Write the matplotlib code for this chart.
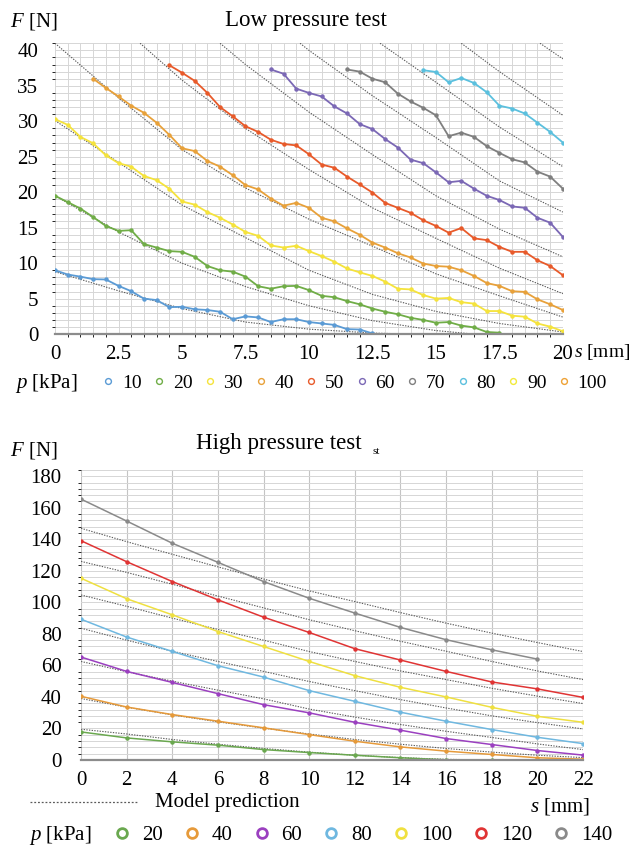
import numpy as np
import matplotlib.pyplot as plt
from matplotlib.lines import Line2D
from matplotlib.ticker import MultipleLocator

plt.rcParams['font.family'] = ['Liberation Serif', 'DejaVu Serif']
plt.rcParams['mathtext.fontset'] = 'custom'
plt.rcParams['mathtext.rm'] = 'Liberation Serif'
plt.rcParams['mathtext.it'] = 'Liberation Serif:italic'

# ---------------- low pressure test (s step 0.5 mm) ----------------
low_p = [10, 20, 30, 40, 50, 60, 70, 80, 90, 100]
low_colors = ['#5b9bd5', '#70ad47', '#f5e33c', '#e8a13a', '#e85a2a',
              '#7b68b5', '#7f7f7f', '#5bc0de', '#f2ea3a', '#eea236']
low_start = [0, 0, 0, 1.5, 4.5, 8.5, 11.5, 14.5]
low_10 = [9.0, 8.4, 8.1, 7.75, 7.7, 6.8, 6.05, 5.0, 4.8, 3.8, 3.85, 3.5, 3.4,
          3.15, 2.1, 2.5, 2.35, 1.7, 2.1, 2.1, 1.7, 1.5, 1.3, 0.7, 0.65, 0.1]
low_20 = [19.5, 18.6, 17.7, 16.5, 15.25, 14.55, 14.65, 12.7, 12.2, 11.7, 11.6,
          10.9, 9.6, 9.0, 8.8, 8.1, 6.75, 6.4, 6.75, 6.8, 6.2, 5.4, 5.2, 4.65,
          4.2, 3.6, 3.15, 2.8, 2.3, 2.0, 1.6, 1.7, 1.2, 0.95, 0.3, 0.2]
low_30 = [30.3, 29.5, 27.8, 26.9, 25.2, 24.1, 23.6, 22.3, 21.7, 20.5, 18.7,
          18.25, 17.2, 16.4, 15.45, 14.4, 13.85, 12.5, 12.2, 12.45, 11.7, 11.0,
          10.2, 9.25, 8.7, 8.2, 7.4, 6.4, 6.3, 5.5, 5.0, 5.1, 4.5, 4.3, 3.25,
          3.25, 2.6, 2.45, 1.5, 1.05, 0.4]
low_40 = [36.0, 34.7, 33.5, 32.2, 31.2, 29.8, 28.1, 26.2, 25.8, 24.4, 23.6,
          22.4, 21.0, 20.4, 19.1, 18.1, 18.5, 17.8, 16.4, 15.9, 14.9, 14.0,
          12.9, 12.2, 11.4, 10.8, 9.95, 9.6, 9.5, 9.0, 8.2, 7.2, 6.8, 6.05,
          5.95, 4.9, 4.2, 3.4]
low_50 = [37.9, 36.85, 35.7, 34.0, 32.0, 30.7, 29.3, 28.5, 27.4, 26.8, 26.6,
          25.35, 23.9, 23.45, 22.2, 21.1, 19.95, 18.5, 17.8, 17.1, 16.05, 15.25,
          14.3, 14.95, 13.5, 13.25, 12.3, 11.6, 11.6, 10.4, 9.6, 8.3]
low_60 = [37.3, 36.7, 34.6, 34.0, 33.5, 32.1, 31.1, 29.6, 28.9, 27.5, 26.3,
          24.6, 24.1, 22.8, 21.4, 21.6, 20.5, 19.5, 18.9, 18.0, 17.8, 16.4,
          15.7, 13.7]
low_70 = [37.3, 37.0, 36.0, 35.5, 33.9, 32.8, 31.9, 30.85, 27.9, 28.4, 27.8,
          26.5, 25.55, 24.65, 24.2, 22.9, 22.2, 20.5]
low_80 = [37.2, 36.95, 35.5, 36.1, 35.4, 34.1, 32.2, 31.8, 31.1, 29.8, 28.5,
          27.0]
low_data = [low_10, low_20, low_30, low_40, low_50, low_60, low_70, low_80]

# model prediction (s, F) readings
lm_s = [
    [0, 2.5, 5, 7.5, 10, 12.5, 14],
    [0, 2.5, 5, 7.5, 10, 12.5, 15, 16.5],
    [0, 2.5, 5, 7.5, 10, 12.5, 15, 17.5, 20],
    [0, 2.5, 5, 7.5, 10, 12.5, 15, 17.5, 20],
    [3.35, 5, 7.5, 10, 12.5, 15, 17.5, 20],
    [6.5, 7.5, 10, 12.5, 15, 17.5, 20],
    [9.65, 10, 12.5, 15, 17.5, 20],
    [12.8, 15, 17.5, 20],
    [16, 17.5, 20],
    [19.1, 20],
]
lm_F = [
    [8.8, 6.1, 3.6, 1.7, 0.7, 0.15, 0.0],
    [19.5, 14.4, 10.0, 6.7, 4.0, 1.9, 0.5, 0.0],
    [30.1, 24.2, 18.2, 13.6, 9.0, 5.6, 3.2, 1.5, 0.3],
    [41, 33.3, 26.0, 20.6, 16.2, 12.4, 8.5, 5.4, 2.4],
    [41, 35.8, 29.0, 23.2, 17.8, 13.5, 9.3, 5.7],
    [41, 38.0, 31.3, 25.3, 19.5, 14.8, 10.9],
    [41, 40.0, 33.6, 27.7, 21.6, 17.2],
    [41, 35.5, 29.2, 23.6],
    [41, 37.0, 30.85],
    [41, 38.8],
]

# ---------------- high pressure test (s step 2 mm) ----------------
high_p = [20, 40, 60, 80, 100, 120, 140]
high_colors = ['#6aa84f', '#e69a3a', '#9b40c0', '#6fb8e0', '#efe040',
               '#e03434', '#8a8a8a']
high_s = [0, 2, 4, 6, 8, 10, 12, 14, 16, 18, 20, 22]
high_20 = [17.8, 14.0, 11.5, 9.4, 6.6, 4.7, 3.0, 1.4, 0.1, 0.0, 0.0, 0.0]
high_40 = [40.4, 33.6, 28.8, 24.6, 20.4, 16.1, 11.9, 8.3, 5.6, 3.5, 1.4, 0.5]
high_60 = [65.3, 56.2, 49.2, 42.1, 35.1, 29.9, 23.9, 18.9, 13.6, 9.8, 6.0, 3.1]
high_80 = [89.3, 78.0, 68.9, 59.8, 52.6, 44.0, 37.2, 30.3, 24.6, 19.3, 14.4, 10.4]
high_100 = [115.3, 102.3, 92.1, 81.5, 72.0, 62.5, 53.5, 46.1, 40.0, 33.4, 27.7, 23.9]
high_120 = [139.1, 125.8, 113.2, 101.6, 90.6, 80.9, 70.6, 63.4, 56.2, 49.5, 45.1, 39.7]
high_140 = [165.5, 151.6, 137.5, 125.4, 113.2, 102.6, 93.2, 84.1, 76.3, 69.9, 64.0]
high_data = [high_20, high_40, high_60, high_80, high_100, high_120, high_140]

hm_20 = [19.5, 16.5, 13.0, 10.0, 7.3, 5.0, 3.0, 1.5, 0.4, 0.0, 0.0, 0.0]
hm_40 = [39.0, 33.5, 28.6, 24.2, 20.2, 16.5, 13.0, 10.0, 7.3, 5.0, 3.0, 1.5]
hm_60 = [62.5, 56.0, 50.0, 44.3, 38.8, 32.3, 27.2, 22.5, 18.2, 14.3, 10.2, 6.6]
hm_80 = [83.6, 76.0, 69.0, 62.5, 56.2, 49.8, 44.0, 38.3, 33.0, 28.0, 23.7, 19.7]
hm_100 = [104.7, 97.5, 90.0, 82.8, 76.0, 68.8, 62.5, 56.5, 51.0, 45.5, 40.5, 35.8]
hm_120 = [126.0, 119.0, 111.5, 104.0, 96.5, 89.0, 82.0, 75.3, 69.0, 62.5, 56.5, 51.0]
hm_140 = [147.0, 138.5, 130.5, 122.5, 114.8, 107.3, 100.5, 93.5, 86.8, 80.5, 74.5, 68.8]
high_model = [hm_20, hm_40, hm_60, hm_80, hm_100, hm_120, hm_140]

model_color = '#5a5a5a'
grid_color = '#d6d6d6'


def style_axes(ax):
    for side in ['top', 'right', 'left']:
        ax.spines[side].set_visible(False)
    ax.spines['bottom'].set_color('#8c8c8c')
    ax.spines['bottom'].set_linewidth(1.6)
    ax.tick_params(length=0, labelsize=15)
    ax.set_axisbelow(True)


fig = plt.figure(figsize=(6.34, 8.48), dpi=100)

# ---------------- top chart ----------------
ax1 = fig.add_axes([0.0868, 0.606, 0.801, 0.343])
for i in range(len(low_p)):
    ax1.plot(lm_s[i], lm_F[i], ls=(0, (1.2, 1.2)), lw=0.8, color=model_color)
for i, vals in enumerate(low_data):
    s = low_start[i] + 0.5 * np.arange(len(vals))
    ax1.plot(s, vals, color=low_colors[i], lw=1.3, marker='o', ms=2.2)
ax1.set_xlim(0, 20)
ax1.set_ylim(0, 41)
ax1.xaxis.set_minor_locator(MultipleLocator(0.5))
ax1.yaxis.set_major_locator(MultipleLocator(5))
ax1.yaxis.set_minor_locator(MultipleLocator(1))
ax1.set_xticks([0, 2.5, 5, 7.5, 10, 12.5, 15, 17.5, 20])
ax1.set_xticklabels(['0', '2.5', '5', '7.5', '10', '12.5', '15', '17.5', '20'])
ax1.grid(which='both', color=grid_color, lw=0.7)
style_axes(ax1)
ax1.tick_params(axis='y', pad=12)
ax1.tick_params(axis='x', pad=8)
fig.text(0.483, 0.976, 'Low pressure test', ha='center', va='center', fontsize=16.5)
fig.text(0.016, 0.975, '$F$ [N]', ha='left', va='center', fontsize=15)
fig.text(0.994, 0.585, '$s$ [mm]', ha='right', va='center', fontsize=14)

fig.text(0.024, 0.548, '$p$ [kPa]', ha='left', va='center', fontsize=15)
h1 = [Line2D([], [], ls='none', marker='o', ms=4.2, mfc='none', mew=1.0,
             color=c) for c in low_colors]
fig.legend(h1, [str(p) for p in low_p], loc='center left',
           bbox_to_anchor=(0.145, 0.548), ncol=10, frameon=False, fontsize=14,
           handlelength=0.7, handletextpad=0.35, columnspacing=0.55,
           borderpad=0)

# ---------------- bottom chart ----------------
ax2 = fig.add_axes([0.1278, 0.1038, 0.7918, 0.342])
for i in range(len(high_p)):
    ax2.plot(high_s, high_model[i], ls=(0, (1.2, 1.2)), lw=0.8, color=model_color)
for i, vals in enumerate(high_data):
    ax2.plot(high_s[:len(vals)], vals, color=high_colors[i], lw=1.1,
             marker='o', ms=2.2)
ax2.set_xlim(0, 22)
ax2.set_ylim(0, 184)
ax2.set_xticks(high_s)
ax2.yaxis.set_minor_locator(MultipleLocator(4))
ax2.grid(axis='x', which='major', color='#c4c4c4', lw=0.8)
ax2.grid(axis='y', which='both', color=grid_color, lw=0.7)
ax2.set_yticks(range(0, 181, 20))
style_axes(ax2)
ax2.tick_params(axis='y', pad=14)
ax2.tick_params(axis='x', pad=8)
fig.text(0.44, 0.477, 'High pressure test', ha='center', va='center', fontsize=16.5)
fig.text(0.594, 0.467, 'st', ha='center', va='center', fontsize=8)
fig.text(0.016, 0.469, '$F$ [N]', ha='left', va='center', fontsize=15)

fig.lines.append(Line2D([0.047, 0.216], [0.054, 0.054], transform=fig.transFigure,
                        ls=(0, (1.5, 1.5)), lw=0.9, color=model_color))
fig.text(0.244, 0.054, 'Model prediction', ha='left', va='center', fontsize=15)
fig.text(0.836, 0.049, '$s$ [mm]', ha='left', va='center', fontsize=15)

fig.text(0.045, 0.015, '$p$ [kPa]', ha='left', va='center', fontsize=15)
h2 = [Line2D([], [], ls='none', marker='o', ms=7, mfc='none', mew=2.0,
             color=c) for c in high_colors]
fig.legend(h2, [str(p) for p in high_p], loc='center left',
           bbox_to_anchor=(0.163, 0.015), ncol=7, frameon=False, fontsize=15,
           handlelength=0.8, handletextpad=0.55, columnspacing=1.0,
           borderpad=0)

fig.savefig('out.png', dpi=100)
